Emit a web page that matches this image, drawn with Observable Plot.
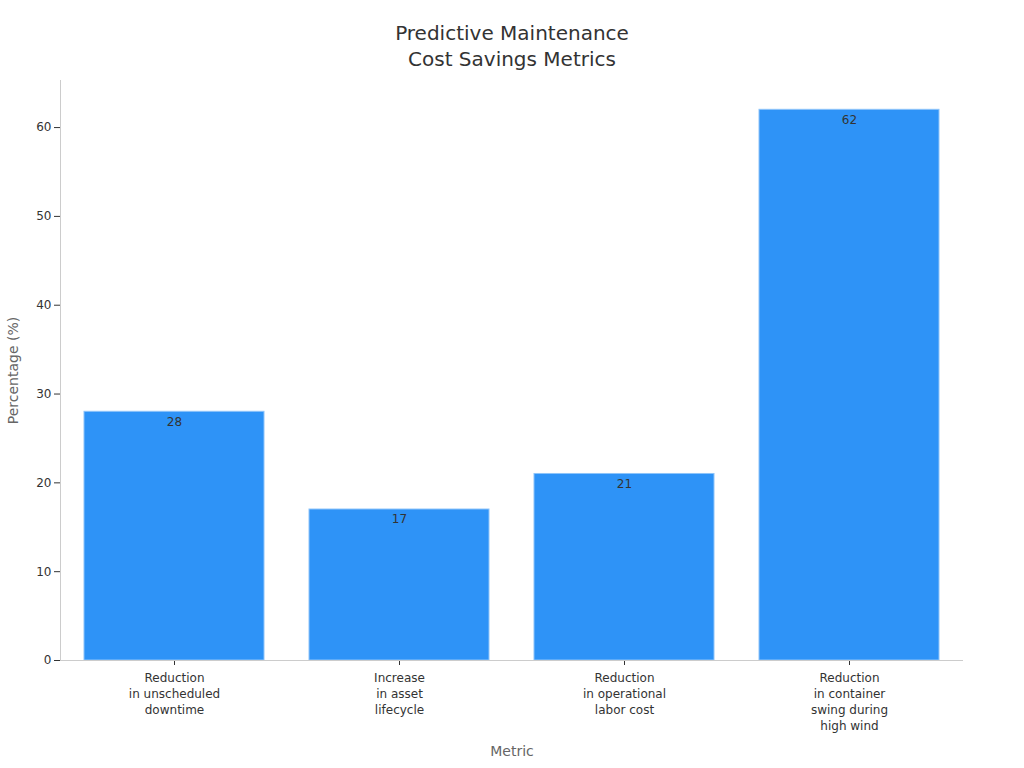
<!DOCTYPE html>
<html><head><meta charset="utf-8">
<script src="https://cdn.jsdelivr.net/npm/d3@7"></script>
<script src="https://cdn.jsdelivr.net/npm/@observablehq/plot@0.6"></script>
<style>
body{margin:0;background:#fff;font-family:"DejaVu Sans",sans-serif;}
#title{height:75px;box-sizing:border-box;padding-top:20px;text-align:center;font-size:20px;line-height:26px;color:#333;}
</style></head><body>
<div id="title">Predictive Maintenance<br>Cost Savings Metrics</div>
<div id="chart"></div>
<script>
const categories = ["Reduction\nin unscheduled\ndowntime","Increase\nin asset\nlifecycle","Reduction\nin operational\nlabor cost","Reduction\nin container\nswing during\nhigh wind"];
const values = [28, 17, 21, 62];
const yTicks = [0,10,20,30,40,50,60];
const data = categories.map((c,i)=>({metric:c, value:values[i]}));

const plot = Plot.plot({
  width:1024, height:693,
  marginTop:5, marginBottom:108, marginLeft:60, marginRight:61,
  style:{fontFamily:"DejaVu Sans, sans-serif", fontSize:"12px", color:"#333", background:"#fff"},
  x:{domain:categories, paddingInner:0.2, paddingOuter:0.1, label:null},
  y:{domain:[0,65.3], label:null, ticks:yTicks},
  marks:[
    Plot.barY(data,{x:"metric", y:"value", fill:"#2E93F7", stroke:"#8EC4FA", strokeWidth:1}),
    Plot.text(data,{x:"metric", y:"value", text:d=>String(d.value), dy:10, fill:"#333", fontSize:12}),
    Plot.axisY({ticks:yTicks, tickSize:6, tickPadding:3, fontSize:12, label:null}),
    Plot.axisX({tickSize:5, tickPadding:5, fontSize:12, label:null, lineHeight:1.33}),
    Plot.ruleY([0],{stroke:"#ccc"}),
    Plot.frame({anchor:"left", stroke:"#ccc"}),
    Plot.text(["Metric"],{frameAnchor:"bottom", dy:95, fontSize:14, fill:"#666"}),
    Plot.text(["Percentage (%)"],{frameAnchor:"left", textAnchor:"middle", dx:-47, rotate:-90, fontSize:14, fill:"#666"})
  ]
});
document.getElementById("chart").appendChild(plot);
</script>
</body></html>
